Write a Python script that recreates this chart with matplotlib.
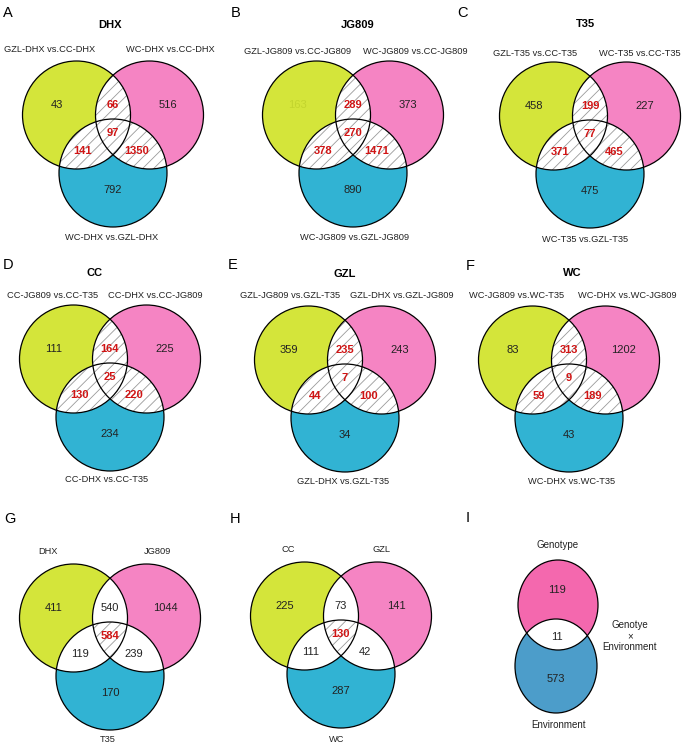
import numpy as np
import matplotlib.pyplot as plt
from matplotlib.patches import Circle, Ellipse, Polygon

plt.rcParams['font.family'] = ['Liberation Sans', 'DejaVu Sans']
plt.rcParams['hatch.linewidth'] = 0.6

# ---- data ----
panel_letters = ['A', 'B', 'C', 'D', 'E', 'F', 'G', 'H']
panel_titles = ['DHX', 'JG809', 'T35', 'CC', 'GZL', 'WC', '', '']
set_names = [
    ['GZL-DHX vs.CC-DHX', 'WC-DHX vs.CC-DHX', 'WC-DHX vs.GZL-DHX'],
    ['GZL-JG809 vs.CC-JG809', 'WC-JG809 vs.CC-JG809', 'WC-JG809 vs.GZL-JG809'],
    ['GZL-T35 vs.CC-T35', 'WC-T35 vs.CC-T35', 'WC-T35 vs.GZL-T35'],
    ['CC-JG809 vs.CC-T35', 'CC-DHX vs.CC-JG809', 'CC-DHX vs.CC-T35'],
    ['GZL-JG809 vs.GZL-T35', 'GZL-DHX vs.GZL-JG809', 'GZL-DHX vs.GZL-T35'],
    ['WC-JG809 vs.WC-T35', 'WC-DHX vs.WC-JG809', 'WC-DHX vs.WC-T35'],
    ['DHX', 'JG809', 'T35'],
    ['CC', 'GZL', 'WC'],
]
# region order: left only, left&right, right only, all three, left&bottom, right&bottom, bottom only
counts_A = [43, 66, 516, 97, 141, 1350, 792]
counts_B = [163, 289, 373, 270, 378, 1471, 890]
counts_C = [458, 199, 227, 77, 371, 465, 475]
counts_D = [111, 164, 225, 25, 130, 220, 234]
counts_E = [359, 235, 243, 7, 44, 100, 34]
counts_F = [83, 313, 1202, 9, 59, 189, 43]
counts_G = [411, 540, 1044, 584, 119, 239, 170]
counts_H = [225, 73, 141, 130, 111, 42, 287]
all_counts = [counts_A, counts_B, counts_C, counts_D, counts_E,
              counts_F, counts_G, counts_H]

# panel I
two_names = ['Genotype', 'Environment', 'Genotye\n\u00d7\nEnvironment']
two_counts = [119, 11, 573]

# ---- layout (pixels) ----
centers = [(113, 115), (353, 115), (590, 116),
           (110, 359), (345, 360), (569, 360),
           (110, 618), (341, 616)]
letter_pos = [(8, 13), (236, 13), (463, 13),
              (8, 265), (233, 265), (470, 266),
              (10, 519), (235, 519)]
title_pos = [(110, 25), (358, 25), (585, 24),
             (95, 273), (345, 274), (572, 273), None, None]
name_pos = [
    [(50, 50), (170, 50), (112, 238)],
    [(298, 52), (415, 52), (355, 238)],
    [(535, 53), (640, 53), (585, 240)],
    [(53, 295), (155, 295), (107, 480)],
    [(290, 295), (402, 295), (343, 482)],
    [(517, 295), (627, 295), (572, 482)],
    [(48, 552), (158, 552), (108, 740)],
    [(288, 550), (382, 550), (337, 740)],
]
R = 54
circ_off = [(-36.5, 0), (36.5, 0), (0, 58)]
lab_off = [(-56, -10), (0, -10), (55, -10), (0, 18), (-30, 36), (24, 36), (0, 75)]

col_y = '#d4e53a'
col_p = '#f584c3'
col_b = '#31b3d3'
col_red = '#d01414'
hatch_col = '#9a9a9a'


def overlap(shapes, n=900):
    # outline of the intersection of convex ellipses (cx, cy, a, b)
    pts = []
    t = np.linspace(0, 2 * np.pi, n, endpoint=False)
    for i, (cx, cy, a, b) in enumerate(shapes):
        x = cx + a * np.cos(t)
        y = cy + b * np.sin(t)
        keep = np.ones(n, bool)
        for j, (ox, oy, oa, ob) in enumerate(shapes):
            if j != i:
                keep &= ((x - ox) / oa) ** 2 + ((y - oy) / ob) ** 2 <= 1 + 1e-9
        pts.append(np.column_stack([x[keep], y[keep]]))
    pts = np.vstack(pts)
    c = pts.mean(axis=0)
    order = np.argsort(np.arctan2(pts[:, 1] - c[1], pts[:, 0] - c[0]))
    return pts[order]


fig = plt.figure(figsize=(6.85, 7.51), dpi=100)
ax = fig.add_axes([0, 0, 1, 1])
ax.set_xlim(0, 685)
ax.set_ylim(751, 0)
ax.axis('off')

for k in range(8):
    cx, cy = centers[k]
    shapes = [(cx + dx, cy + dy, R, R) for dx, dy in circ_off]
    for (x0, y0, a, b), col in zip(shapes, [col_y, col_p, col_b]):
        ax.add_patch(Circle((x0, y0), a, facecolor=col, edgecolor='none', zorder=1))
    pairs = [[shapes[0], shapes[1]], [shapes[0], shapes[2]], [shapes[1], shapes[2]]]
    full_hatch = k < 6
    for pr in pairs:
        ax.add_patch(Polygon(overlap(pr), closed=True, facecolor='white',
                             edgecolor=hatch_col if full_hatch else 'none',
                             lw=0, hatch='///' if full_hatch else None, zorder=2))
    if not full_hatch:
        ax.add_patch(Polygon(overlap(shapes), closed=True, facecolor='white',
                             edgecolor=hatch_col, lw=0, hatch='///', zorder=2))
    for x0, y0, a, b in shapes:
        ax.add_patch(Circle((x0, y0), a, fill=False, edgecolor='black', lw=0.9, zorder=3))

    red_idx = [1, 3, 4, 5] if full_hatch else [3]
    for i, v in enumerate(all_counts[k]):
        dx, dy = lab_off[i]
        if i in red_idx:
            ax.text(cx + dx, cy + dy, str(v), ha='center', va='center', fontsize=8,
                    fontweight='bold', color=col_red, zorder=4)
        else:
            c = '#c3d52e' if (k == 1 and i == 0) else '#222222'
            ax.text(cx + dx, cy + dy, str(v), ha='center', va='center', fontsize=8,
                    color=c, zorder=4)

    for name, (x, y) in zip(set_names[k], name_pos[k]):
        ax.text(x, y, name, ha='center', va='center', fontsize=6.7, color='#222222')
    lx, ly = letter_pos[k]
    ax.text(lx, ly, panel_letters[k], ha='center', va='center', fontsize=10.5)
    if title_pos[k] is not None:
        ax.text(title_pos[k][0], title_pos[k][1], panel_titles[k], ha='center',
                va='center', fontsize=8, fontweight='bold')

# ---- panel I ----
e_top = (558, 605, 40, 45)
e_bot = (556, 666, 41, 47)
ax.add_patch(Ellipse(e_top[:2], 2 * e_top[2], 2 * e_top[3], facecolor='#f468ae',
                     edgecolor='none', zorder=1))
ax.add_patch(Ellipse(e_bot[:2], 2 * e_bot[2], 2 * e_bot[3], facecolor='#4c9dca',
                     edgecolor='none', zorder=1))
ax.add_patch(Polygon(overlap([e_top, e_bot]), closed=True, facecolor='white',
                     edgecolor='none', zorder=2))
for e in (e_top, e_bot):
    ax.add_patch(Ellipse(e[:2], 2 * e[2], 2 * e[3], fill=False, edgecolor='black',
                         lw=0.9, zorder=3))
ax.text(557, 590, str(two_counts[0]), ha='center', va='center', fontsize=8, color='#222222', zorder=4)
ax.text(557, 637, str(two_counts[1]), ha='center', va='center', fontsize=8, color='#222222', zorder=4)
ax.text(556, 679, str(two_counts[2]), ha='center', va='center', fontsize=8, color='#222222', zorder=4)
ax.text(558, 545, two_names[0], ha='center', va='center', fontsize=7, color='#222222')
ax.text(559, 725, two_names[1], ha='center', va='center', fontsize=7, color='#222222')
ax.text(630, 636, two_names[2], ha='center', va='center', fontsize=7,
        color='#222222', linespacing=1.1)
ax.text(468, 518, 'I', ha='center', va='center', fontsize=10.5)

fig.savefig('out.png', dpi=100)
